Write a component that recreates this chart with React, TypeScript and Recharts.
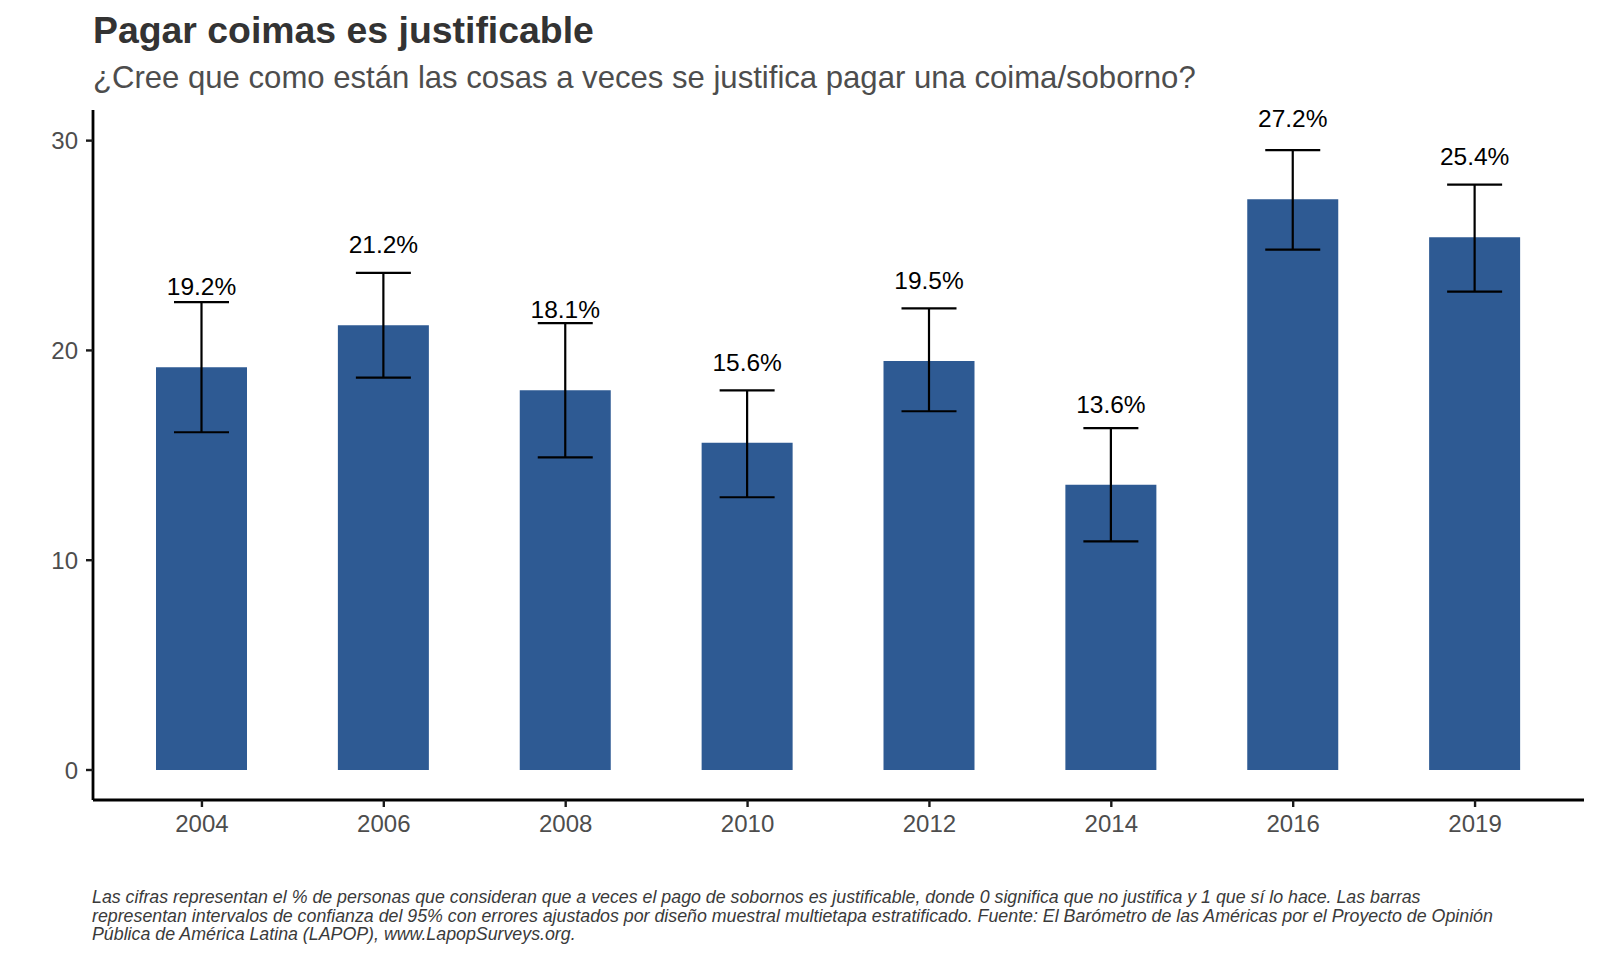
import React from 'react'
import { ComposedChart, Bar, XAxis, YAxis, ErrorBar, LabelList } from 'recharts'

const years = ['2004', '2006', '2008', '2010', '2012', '2014', '2016', '2019']
const pct = [19.2, 21.2, 18.1, 15.6, 19.5, 13.6, 27.2, 25.4]
const ciLow = [16.1, 18.7, 14.9, 13.0, 17.1, 10.9, 24.8, 22.8]
const ciHigh = [22.3, 23.7, 21.3, 18.1, 22.0, 16.3, 29.55, 27.9]
const yTicks = [0, 10, 20, 30]

const title = 'Pagar coimas es justificable'
const subtitle = '¿Cree que como están las cosas a veces se justifica pagar una coima/soborno?'
const captionLines = [
  'Las cifras representan el % de personas que consideran que a veces el pago de sobornos es justificable, donde 0 significa que no justifica y 1 que sí lo hace. Las barras',
  'representan intervalos de confianza del 95% con errores ajustados por diseño muestral multietapa estratificado. Fuente: El Barómetro de las Américas por el Proyecto de Opinión',
  'Pública de América Latina (LAPOP), www.LapopSurveys.org.',
]

const FONT = '"Liberation Sans", Arial, sans-serif'

const data = years.map((year, i) => ({
  year,
  pct: pct[i],
  err: [pct[i] - ciLow[i], ciHigh[i] - pct[i]],
}))

export default function App() {
  return (
    <div style={{ position: 'absolute', left: 0, top: 0, width: 1600, height: 960, background: '#fff' }}>
      <svg width={1600} height={960} style={{ position: 'absolute', left: 0, top: 0 }}>
        <text x={93} y={43} fontFamily={FONT} fontSize={37.4} fontWeight="bold" fill="#333333">
          {title}
        </text>
        <text x={93} y={88} fontFamily={FONT} fontSize={31.1} fill="#4d4d4d">
          {subtitle}
        </text>
        {captionLines.map((line, i) => (
          <text
            key={i}
            x={92}
            y={903 + i * 18.6}
            fontFamily={FONT}
            fontSize={17.8}
            fontStyle="italic"
            fill="#3a3a3a"
          >
            {line}
          </text>
        ))}
      </svg>
      <div style={{ position: 'absolute', left: 0, top: 0 }}>
        <ComposedChart
          width={1600}
          height={960}
          data={data}
          margin={{ top: 110, right: 16, left: 0, bottom: 120 }}
        >
          <XAxis
            dataKey="year"
            padding={{ left: 18, right: 18 }}
            height={40}
            tick={{ fontSize: 24, fill: '#4d4d4d', fontFamily: FONT }}
            tickSize={7}
            tickMargin={8}
            axisLine={{ stroke: '#000', strokeWidth: 2.8 }}
            tickLine={{ stroke: '#1a1a1a', strokeWidth: 2.4 }}
          />
          <YAxis
            type="number"
            domain={[-1.43, 31.46]}
            ticks={yTicks}
            width={93}
            tick={{ fontSize: 24, fill: '#4d4d4d', fontFamily: FONT }}
            tickSize={7}
            tickMargin={8}
            axisLine={{ stroke: '#000', strokeWidth: 2.8 }}
            tickLine={{ stroke: '#1a1a1a', strokeWidth: 2.4 }}
          />
          <Bar dataKey="pct" fill="#2E5A93" barSize={91} isAnimationActive={false}>
            <ErrorBar
              dataKey="err"
              direction="y"
              width={27.5}
              stroke="#000"
              strokeWidth={2.2}
              isAnimationActive={false}
            />
            <LabelList
              dataKey="pct"
              position="top"
              offset={72}
              formatter={(v: number) => `${v}%`}
              fill="#000"
              fontSize={24.5}
              fontFamily={FONT}
            />
          </Bar>
        </ComposedChart>
      </div>
    </div>
  )
}
